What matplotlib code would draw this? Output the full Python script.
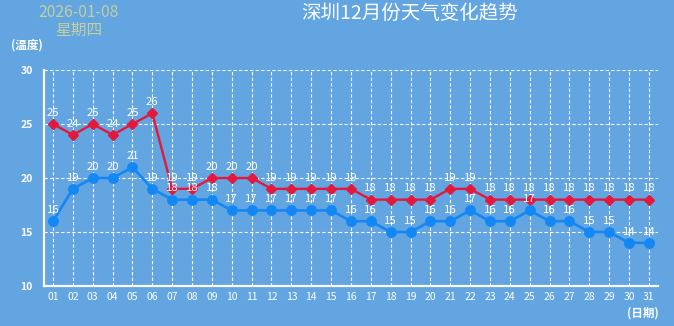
import matplotlib

matplotlib.use("Agg")

import matplotlib.pyplot as plt

plt.rcParams["font.family"] = ["Noto Sans CJK SC", "DejaVu Sans"]

BG = "#62a5e0"
RED = "#e5173a"
BLUE = "#1388f5"

DAYS = ["%02d" % d for d in range(1, 32)]
HIGH = [25, 24, 25, 24, 25, 26, 19, 19, 20, 20, 20, 19, 19, 19, 19, 19,
        18, 18, 18, 18, 19, 19, 18, 18, 18, 18, 18, 18, 18, 18, 18]
LOW = [16, 19, 20, 20, 21, 19, 18, 18, 18, 17, 17, 17, 17, 17, 17, 16,
       16, 15, 15, 16, 16, 17, 16, 16, 17, 16, 16, 15, 15, 14, 14]
Y_TICKS = [10, 15, 20, 25, 30]


def label_points(ax, xs, values):
    for xi, v in zip(xs, values):
        ax.annotate(str(v), (xi, v), xytext=(0, 4.5), textcoords="offset points",
                    ha="center", va="bottom", color="white", fontsize=8.2, zorder=4)


def main():
    fig = plt.figure(figsize=(6.74, 3.26), dpi=100, facecolor=BG)
    ax = fig.add_axes([0.0653, 0.1227, 0.9107, 0.6623], facecolor=BG)

    x = list(range(1, len(DAYS) + 1))
    ax.plot(x, HIGH, color=RED, linewidth=1.7, marker="D", markersize=4.8, zorder=3)
    ax.plot(x, LOW, color=BLUE, linewidth=1.9, marker="o", markersize=6.8, zorder=3)

    label_points(ax, x, HIGH)
    label_points(ax, x, LOW)

    ax.set_xlim(0.547, 31.45)
    ax.set_ylim(10, 30)
    ax.set_xticks(x)
    ax.set_xticklabels(DAYS)
    ax.set_yticks(Y_TICKS)
    ax.tick_params(axis="x", colors="white", labelsize=7.5, length=0, pad=4)
    ax.tick_params(axis="y", colors="white", labelsize=7.5, length=0, pad=8)
    for lab in ax.get_yticklabels():
        lab.set_fontweight("bold")

    ax.grid(True, color="white", linestyle=(0, (3, 2)), linewidth=0.8)
    for side in ["top", "right"]:
        ax.spines[side].set_visible(False)
    for side in ["left", "bottom"]:
        ax.spines[side].set_color("white")
        ax.spines[side].set_linewidth(1.6)

    fig.text(0.608, 0.96, "深圳12月份天气变化趋势", color="white", fontsize=14,
             ha="center", va="center")
    fig.text(0.117, 0.962, "2026-01-08", color="#c2cf9e", fontsize=11.3,
             ha="center", va="center")
    fig.text(0.117, 0.906, "星期四", color="#c2cf9e", fontsize=11.3,
             ha="center", va="center")
    fig.text(0.04, 0.862, "(温度)", color="white", fontsize=8.3, fontweight="bold",
             ha="center", va="center")
    fig.text(0.954, 0.04, "(日期)", color="white", fontsize=8.3, fontweight="bold",
             ha="center", va="center")

    fig.savefig("out.png", dpi=100, facecolor=BG)
    plt.close(fig)


if __name__ == "__main__":
    main()
